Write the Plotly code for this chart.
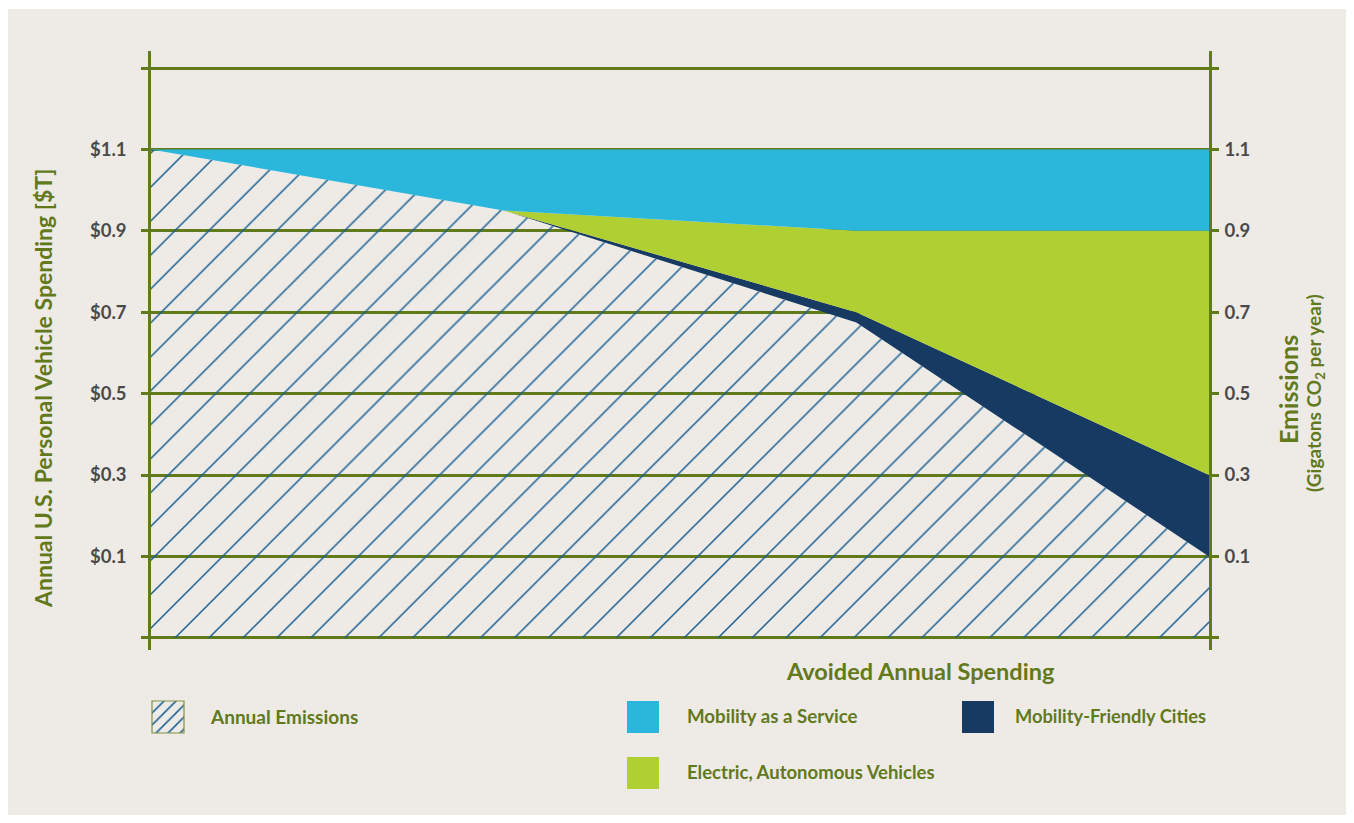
import numpy as np
import plotly.graph_objects as go

# ---- data -----------------------------------------------------------------
steps = [0, 1, 2, 3]                       # horizon steps along the avoided-spending axis
emissions = [1.1, 0.95, 0.675, 0.1]        # annual emissions (hatched area top)
cities = [0.0, 0.0, 0.025, 0.2]            # Mobility-Friendly Cities
eav = [0.0, 0.0, 0.2, 0.6]                 # Electric, Autonomous Vehicles
maas = [0.0, 0.15, 0.2, 0.2]               # Mobility as a Service
floor_level = -0.1

label_ticks = [0.1, 0.3, 0.5, 0.7, 0.9, 1.1]
left_labels = ["$0.1", "$0.3", "$0.5", "$0.7", "$0.9", "$1.1"]
right_labels = ["0.1", "0.3", "0.5", "0.7", "0.9", "1.1"]
edge_ticks = [-0.1, 1.3]

legend_items = ["Annual Emissions", "Mobility as a Service",
                "Mobility-Friendly Cities", "Electric, Autonomous Vehicles"]

# ---- styling --------------------------------------------------------------
W, H = 1354, 823
PLOT_L, PLOT_R, PLOT_T, PLOT_B = 151, 1209, 51, 650
OLIVE = "#617A1A"
TITLE = "#62791C"
BEIGE = "#EEEBE7"
HATCH = "#195E92"
C_MAAS = "#2BB7DC"
C_EAV = "#B0CF33"
C_CITY = "#173A63"
TICK_GREY = "#4A4A4A"
FONT = "Lato"
PX_PER_UNIT = 407


def px(x):
    return x / W


def py(y):
    return 1 - y / H


top_emis = np.array(emissions)
top_city = top_emis + np.array(cities)
top_eav = top_city + np.array(eav)
top_maas = top_eav + np.array(maas)

fig = go.Figure()

fig.add_trace(go.Scatter(x=steps, y=[floor_level] * len(steps), mode="lines",
                         line=dict(width=0), hoverinfo="skip", showlegend=False))
fig.add_trace(go.Scatter(x=steps, y=top_emis, mode="lines", line=dict(width=0),
                         fill="tonexty", fillcolor="rgba(0,0,0,0)",
                         fillpattern=dict(shape="/", fgcolor=HATCH, bgcolor="rgba(0,0,0,0)",
                                          size=24, solidity=0.062, fillmode="replace"),
                         name=legend_items[0], showlegend=False))
fig.add_trace(go.Scatter(x=steps, y=top_city, mode="lines", line=dict(width=0),
                         fill="tonexty", fillcolor=C_CITY, name=legend_items[2], showlegend=False))
fig.add_trace(go.Scatter(x=steps, y=top_eav, mode="lines", line=dict(width=0),
                         fill="tonexty", fillcolor=C_EAV, name=legend_items[3], showlegend=False))
fig.add_trace(go.Scatter(x=steps, y=top_maas, mode="lines", line=dict(width=0),
                         fill="tonexty", fillcolor=C_MAAS, name=legend_items[1], showlegend=False))

# right-hand emissions axis (same scale)
fig.add_trace(go.Scatter(x=steps, y=top_maas, mode="lines", line=dict(width=0),
                         yaxis="y2", hoverinfo="skip", showlegend=False))

# hatched legend swatch on its own small axes
sw_x0, sw_x1, sw_y0, sw_y1 = 152, 184, 701, 733
fig.add_trace(go.Scatter(x=[0, 1, 1, 0, 0], y=[0, 0, 1, 1, 0], mode="lines",
                         line=dict(width=0), fill="toself", fillcolor="rgba(0,0,0,0)",
                         fillpattern=dict(shape="/", fgcolor=HATCH, bgcolor="rgba(0,0,0,0)",
                                          size=8.5, solidity=0.18, fillmode="replace"),
                         xaxis="x3", yaxis="y3", hoverinfo="skip", showlegend=False))

plot_h = PLOT_B - PLOT_T
y_hi = 1.3 + 17 / PX_PER_UNIT
y_lo = y_hi - plot_h / PX_PER_UNIT

tick_font = dict(family=FONT, size=18.5, color=TICK_GREY, weight="bold")
minor = dict(tickmode="array", tickvals=edge_ticks, showgrid=True, gridcolor=OLIVE,
             gridwidth=2.5, ticks="outside", ticklen=7, tickwidth=2.5, tickcolor=OLIVE)

fig.update_layout(
    width=W, height=H,
    margin=dict(l=0, r=0, t=0, b=0),
    paper_bgcolor="white",
    plot_bgcolor="rgba(0,0,0,0)",
    font=dict(family=FONT),
    xaxis=dict(domain=[px(PLOT_L), px(PLOT_R)], range=[steps[0], steps[-1]],
               showgrid=False, zeroline=False, showticklabels=False, showline=False,
               ticks="", anchor="y"),
    yaxis=dict(domain=[py(PLOT_B), py(PLOT_T)], range=[y_lo, y_hi],
               tickmode="array", tickvals=label_ticks, ticktext=left_labels,
               showgrid=True, gridcolor=OLIVE, gridwidth=2.5, zeroline=False,
               showline=True, linecolor=OLIVE, linewidth=2.5,
               ticks="outside", ticklen=7, tickwidth=2.5, tickcolor=OLIVE,
               ticklabelstandoff=11, tickfont=tick_font, minor=minor, anchor="x"),
    yaxis2=dict(range=[y_lo, y_hi], tickmode="array", tickvals=label_ticks,
                ticktext=right_labels, overlaying="y", side="right", anchor="x",
                showgrid=False, zeroline=False,
                showline=True, linecolor=OLIVE, linewidth=2.5,
                ticks="outside", ticklen=7, tickwidth=2.5, tickcolor=OLIVE,
                ticklabelstandoff=2, tickfont=tick_font,
                minor=dict(minor, showgrid=False)),
    xaxis3=dict(domain=[px(sw_x0), px(sw_x1)], range=[0, 1], visible=False, anchor="y3"),
    yaxis3=dict(domain=[py(sw_y1), py(sw_y0)], range=[0, 1], visible=False, anchor="x3"),
    showlegend=False,
)

shapes = [
    # beige panel
    dict(type="rect", xref="paper", yref="paper", layer="below",
         x0=px(8), x1=px(1346), y0=py(815), y1=py(9),
         fillcolor=BEIGE, line=dict(width=0)),
    # legend swatches
    dict(type="rect", xref="paper", yref="paper", x0=px(sw_x0), x1=px(sw_x1),
         y0=py(sw_y1), y1=py(sw_y0), line=dict(color="#7E9444", width=1.2)),
    dict(type="rect", xref="paper", yref="paper", x0=px(627), x1=px(659),
         y0=py(733), y1=py(701), fillcolor=C_MAAS, line=dict(width=0)),
    dict(type="rect", xref="paper", yref="paper", x0=px(962), x1=px(994),
         y0=py(733), y1=py(701), fillcolor=C_CITY, line=dict(width=0)),
    dict(type="rect", xref="paper", yref="paper", x0=px(627), x1=px(659),
         y0=py(789), y1=py(757), fillcolor=C_EAV, line=dict(width=0)),
]

tfont = dict(family=FONT, color=TITLE, weight="bold")
annotations = [
    dict(text="Annual U.S. Personal Vehicle Spending [$T]", x=px(43), y=py(389),
         textangle=-90, font=dict(size=23, **tfont)),
    dict(text="Emissions", x=px(1288), y=py(390), textangle=-90,
         font=dict(size=25, **tfont)),
    dict(text="(Gigatons CO<sub>2</sub> per year)", x=px(1315), y=py(393), textangle=-90,
         font=dict(size=19, **tfont)),
    dict(text="Avoided Annual Spending", x=px(920), y=py(671), font=dict(size=23.5, **tfont)),
    dict(text=legend_items[0], x=px(208), y=py(716), xanchor="left",
         font=dict(size=19, **tfont)),
    dict(text=legend_items[1], x=px(685), y=py(716), xanchor="left",
         font=dict(size=18.7, **tfont)),
    dict(text=legend_items[2], x=px(1013), y=py(716), xanchor="left",
         font=dict(size=18.3, **tfont)),
    dict(text=legend_items[3], x=px(685), y=py(772), xanchor="left",
         font=dict(size=18.5, **tfont)),
]
for a in annotations:
    a.update(xref="paper", yref="paper", showarrow=False)
    a.setdefault("xanchor", "center")
    a.setdefault("yanchor", "middle")

fig.update_layout(shapes=shapes, annotations=annotations)
fig.write_html("out.html")
